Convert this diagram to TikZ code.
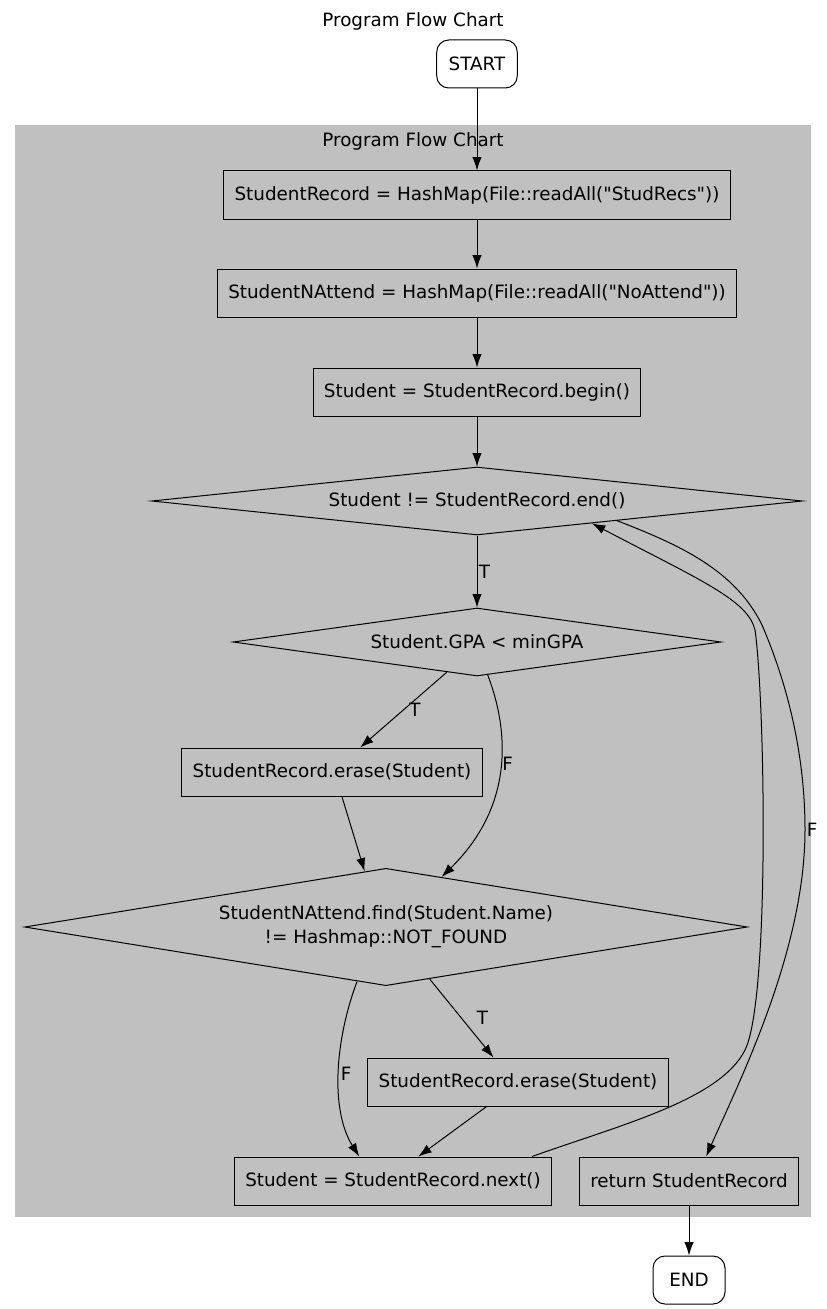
\documentclass[tikz,border=0pt]{standalone}
\usepackage{fontspec}
\setmainfont{DejaVu Sans}
\usetikzlibrary{shapes, arrows.meta, positioning}
\definecolor{clustergray}{HTML}{C0C0C0}

\begin{document}
\begin{tikzpicture}[x=0.75pt, y=-0.75pt, line width=0.75pt, >={Latex[length=10pt, width=7pt]},
  every node/.style={font=\fontsize{13.75}{18}\selectfont},
  box/.style={draw, rectangle, fill=clustergray, minimum height=36pt, inner xsep=8pt},
  terminal/.style={draw, rectangle, rounded corners=9pt, fill=white, minimum height=36pt, minimum width=54pt, inner xsep=9pt},
  decision/.style={draw, diamond, fill=clustergray, inner sep=0pt},
  flowlabel/.style={inner sep=1pt}]
  \useasboundingbox (0,0) rectangle (827,1309);

  % Titel und Cluster
  \node (title) at (413,21) {Program Flow Chart};
  \node[fill=clustergray, minimum width=597pt, minimum height=819pt, inner sep=0pt] (cluster) at (413,671) {};
  \node (clustertitle) at (413,141) {Program Flow Chart};

  % Knoten
  \node[terminal] (start) at (477,64) {START};
  \node[box] (readrec) at (477,195) {StudentRecord = HashMap(File::readAll(\textquotedbl StudRecs\textquotedbl))};
  \node[box] (readnatt) at (477,293) {StudentNAttend = HashMap(File::readAll(\textquotedbl NoAttend\textquotedbl))};
  \node[box] (begin) at (477,392) {Student = StudentRecord.begin()};
  \node[decision, aspect=9.6, minimum width=488pt, minimum height=51pt] (notend) at (477,501) {Student != StudentRecord.end()};
  \node[decision, aspect=7.2, minimum width=366pt, minimum height=51pt] (lowgpa) at (477,642) {Student.GPA < minGPA};
  \node[box] (erasegpa) at (332,772) {StudentRecord.erase(Student)};
  \node[decision, aspect=6.2, minimum width=542pt, minimum height=88pt, align=center] (noattend) at (386,927) {StudentNAttend.find(Student.Name)\\!= Hashmap::NOT\_FOUND};
  \node[box] (eraseatt) at (518,1082) {StudentRecord.erase(Student)};
  \node[box] (next) at (393,1181) {Student = StudentRecord.next()};
  \node[box] (ret) at (689,1181) {return StudentRecord};
  \node[terminal] (stop) at (689,1280) {END};

  % Verbindungen
  \draw[->] (start) -- (readrec);
  \draw[->] (readrec) -- (readnatt);
  \draw[->] (readnatt) -- (begin);
  \draw[->] (begin) -- (notend);
  \draw[->] (notend) -- node[right, flowlabel]{T} (lowgpa);
  \draw[->] (lowgpa.-135) -- node[right=3pt, flowlabel]{T} (erasegpa.41);
  \draw[->] (lowgpa.-72) .. controls (505,720) and (520,800) .. (noattend.42) node[pos=0.5, right, flowlabel]{F};
  \draw[->] (erasegpa.-68) -- (noattend.111);
  \draw[->] (noattend.-50) -- node[right=10pt, flowlabel]{T} (eraseatt.135);
  \draw[->] (noattend.-118) .. controls (335,1040) and (330,1110) .. (next.144) node[pos=0.5, right, flowlabel]{F};
  \draw[->] (eraseatt.-142) -- (next.44);
  % Schleife zurueck
  \draw[->] (next.10.5) .. controls (620,1125) and (720,1100) .. (745,1050)
    .. controls (770,1000) and (765,700) .. (755,630)
    .. controls (748,600) and (700,580) .. (notend.-11);
  \draw[->] (notend.-8) .. controls (680,545) and (735,570) .. (762,625)
    .. controls (790,690) and (805,760) .. (805,830) node[right, flowlabel]{F}
    .. controls (805,950) and (740,1080) .. (ret.55);
  \draw[->] (ret) -- (stop);
\end{tikzpicture}
\end{document}
